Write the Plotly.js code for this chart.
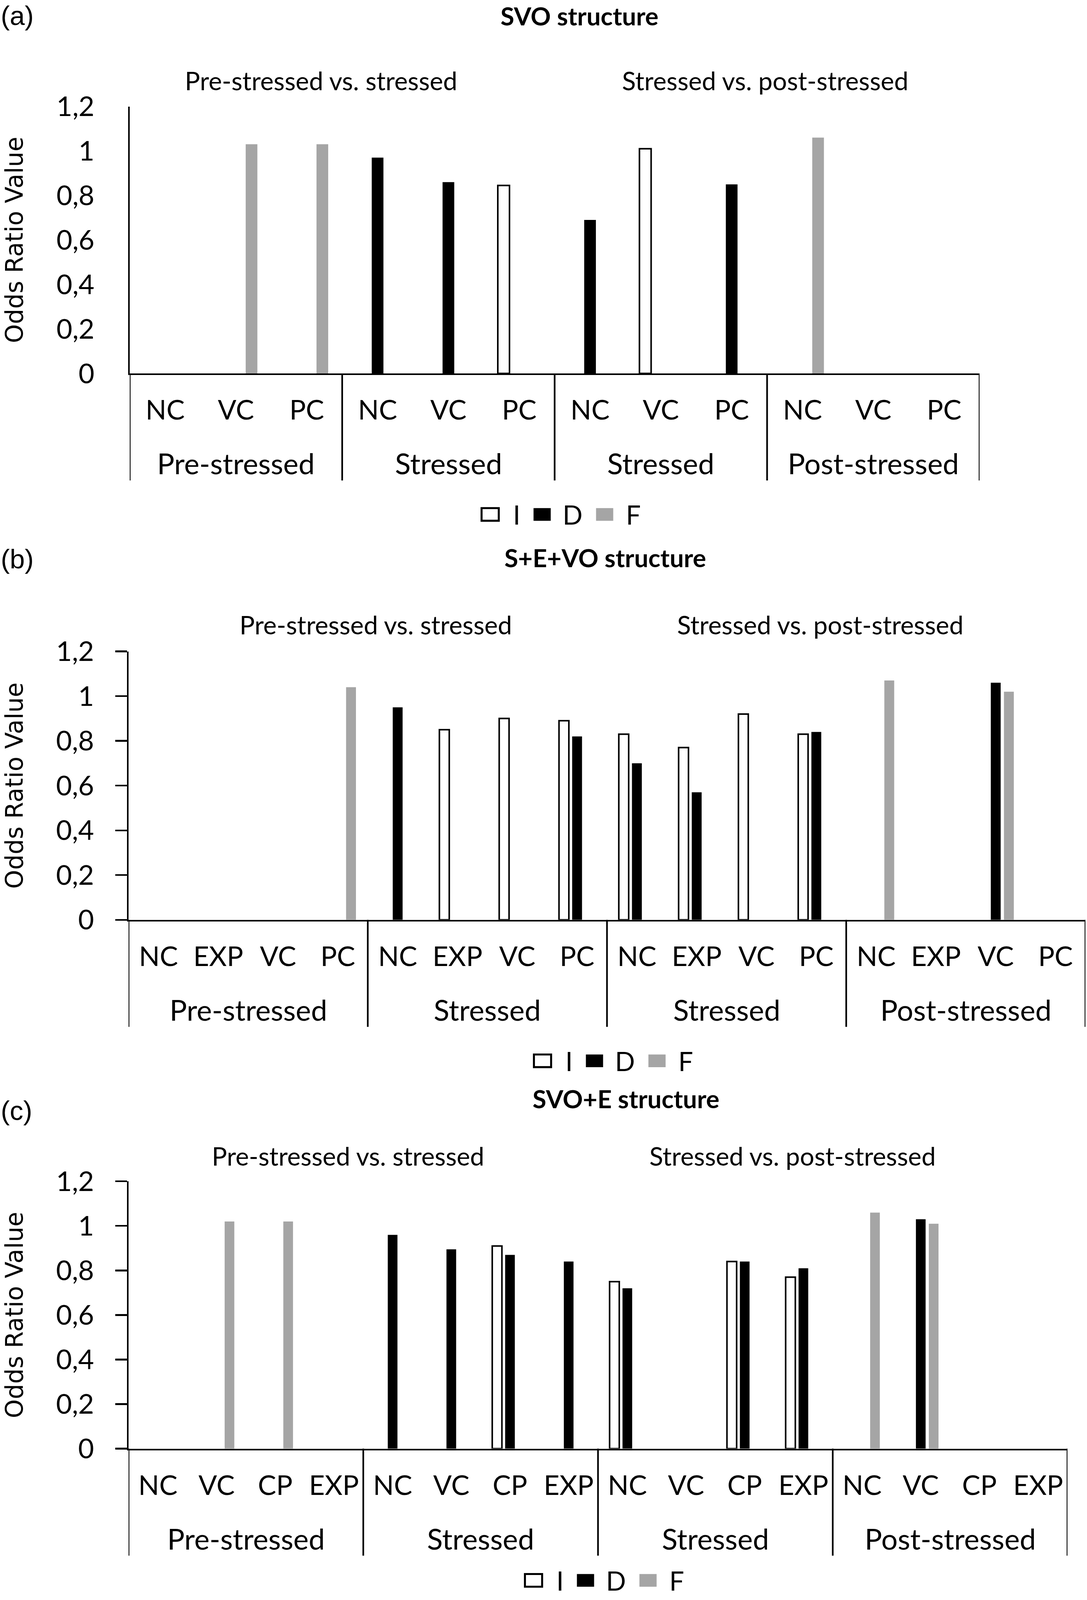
<!DOCTYPE html>
<html>
<head>
<meta charset="utf-8">
<script src="https://cdn.plot.ly/plotly-3.0.1.min.js"></script>
<style>html,body{margin:0;padding:0;background:#fff;overflow:hidden}</style>
</head>
<body>
<div id="chart"></div>
<script>
// ---------------- DATA ----------------
const seriesNames = ['I', 'D', 'F'];
const groupLabels = ['Pre-stressed', 'Stressed', 'Stressed', 'Post-stressed'];
const panelLetters = ['(a)', '(b)', '(c)'];
const panelTitles = ['SVO structure', 'S+E+VO structure', 'SVO+E structure'];
const comparisonLabels = ['Pre-stressed vs. stressed', 'Stressed vs. post-stressed'];
const yAxisTitle = 'Odds Ratio Value';
const yTickVals = [0, 0.2, 0.4, 0.6, 0.8, 1, 1.2];
const yTickText = ['0', '0,2', '0,4', '0,6', '0,8', '1', '1,2'];

const subLabelsA = ['NC', 'VC', 'PC'];
const subLabelsB = ['NC', 'EXP', 'VC', 'PC'];
const subLabelsC = ['NC', 'VC', 'CP', 'EXP'];

// (a) SVO structure
const A_I = [null, null, null,  null, null, 0.845,  null, 1.01, null,  null, null, null];
const A_D = [null, null, null,  0.97, 0.86, null,   0.69, null, 0.85,  null, null, null];
const A_F = [null, 1.03, 1.03,  null, null, null,   null, null, null,  1.06, null, null];

// (b) S+E+VO structure
const B_I = [null, null, null, null,  null, 0.85, 0.90, 0.89,  0.83, 0.77, 0.92, 0.83,  null, null, null, null];
const B_D = [null, null, null, null,  0.95, null, null, 0.82,  0.70, 0.57, null, 0.84,  null, null, 1.06, null];
const B_F = [null, null, null, 1.04,  null, null, null, null,  null, null, null, null,  1.07, null, 1.02, null];

// (c) SVO+E structure
const C_I = [null, null, null, null,  null, null, 0.91, null,  0.75, null, 0.84, 0.77,  null, null, null, null];
const C_D = [null, null, null, null,  0.96, 0.895, 0.87, 0.84, 0.72, null, 0.84, 0.81,  null, 1.03, null, null];
const C_F = [null, 1.02, 1.02, null,  null, null, null, null,  null, null, null, null,  1.06, 1.01, null, null];

// ---------------- STYLE / GEOMETRY ----------------
// Geometry is written in reference pixels (2782 x 5561) and mapped onto
// whatever window the page actually gets, so nothing falls off an edge.
const REF_W = 2782, REF_H = 5561;
const W = window.innerWidth || REF_W;
const H = window.innerHeight || REF_H;
const sx = W / REF_W, sy = H / REF_H;
const fsc = Math.sqrt(sx * sy);           // font scale
const fs = v => Math.round(v * fsc);
const px = v => v / REF_W;                 // reference px -> paper x
const py = v => 1 - v / REF_H;             // reference px -> paper y
document.getElementById('chart').style.width = W + 'px';
document.getElementById('chart').style.height = H + 'px';

const TXT = 'Lato, "Open Sans", sans-serif';
const NARROW = '"Liberation Sans Narrow", "Arial Narrow", "Liberation Sans", sans-serif';
const seriesColors = ['#FFFFFF', '#000000', '#A5A5A5'];
const seriesLines = [4, 0, 0];

const panelData = [
  {sub: subLabelsA, vals: [A_I, A_D, A_F]},
  {sub: subLabelsB, vals: [B_I, B_D, B_F]},
  {sub: subLabelsC, vals: [C_I, C_D, C_F]}
];
const panelGeom = [
  {x0: 332, x1: 2507, top: 370,  bot: 1298, titleX: 1483, titleY: 32,   letterY: 52,   cmpY: 280,  cmpX: [822, 1958], ticks: false},
  {x0: 329, x1: 2778, top: 2264, bot: 3197, titleX: 1549, titleY: 1938, letterY: 1944, cmpY: 2171, cmpX: [962, 2099], ticks: true},
  {x0: 329, x1: 2732, top: 4106, bot: 5035, titleX: 1602, titleY: 3819, letterY: 3860, cmpY: 4018, cmpX: [891, 2028], ticks: true}
];

const xTickSize = fs(81);
const legendSize = fs(78);
const traces = [];
const layout = {
  width: W, height: H,
  margin: {l: 0, r: 0, t: 0, b: 0},
  paper_bgcolor: '#FFFFFF',
  plot_bgcolor: 'rgba(0,0,0,0)',
  barmode: 'group',
  bargap: 0.34,
  bargroupgap: 0.25,
  showlegend: false,
  font: {family: TXT, color: '#000000'},
  annotations: [],
  shapes: []
};

panelData.forEach((pd, k) => {
  const g = panelGeom[k];
  const sfx = k === 0 ? '' : String(k + 1);
  const xa = 'x' + sfx, ya = 'y' + sfx;
  const nsub = pd.sub.length;
  const ids = [];
  const tickText = [];
  groupLabels.forEach((gl, gi) => pd.sub.forEach(s => { ids.push(gi + '|' + s); tickText.push(s); }));

  seriesNames.forEach((name, si) => {
    traces.push({
      type: 'bar', name: name, x: ids, y: pd.vals[si],
      xaxis: xa, yaxis: ya,
      marker: {color: seriesColors[si], line: {color: '#000000', width: seriesLines[si] * sx}},
      hoverinfo: 'x+y+name'
    });
  });

  layout['xaxis' + sfx] = {
    domain: [px(g.x0), px(g.x1)], anchor: ya,
    type: 'category', categoryorder: 'array', categoryarray: ids,
    range: [-0.5, ids.length - 0.5],
    tickmode: 'array', tickvals: ids, ticktext: tickText,
    showline: true, linecolor: '#000000', linewidth: 5 * fsc,
    ticks: '', showgrid: false, zeroline: false,
    tickfont: {family: TXT, size: xTickSize, color: '#000000'},
    ticklabelstandoff: Math.max(0, Math.round(125 * sy - 0.89 * xTickSize)), fixedrange: true
  };
  layout['yaxis' + sfx] = {
    domain: [py(g.bot), py(g.top)], anchor: xa,
    range: [0, 1.2], tickmode: 'array', tickvals: yTickVals, ticktext: yTickText,
    showline: true, linecolor: '#000000', linewidth: 5 * fsc,
    ticks: g.ticks ? 'outside' : '', ticklen: 30 * sx, tickwidth: 5 * fsc, tickcolor: '#000000',
    showgrid: false, zeroline: false,
    tickfont: {family: TXT, size: fs(82), color: '#000000'},
    ticklabelstandoff: Math.round((g.ticks ? 40 : 72) * sx),
    title: {text: yAxisTitle, font: {family: '"DejaVu Sans", sans-serif', size: fs(72), color: '#000000'}, standoff: Math.round(80 * sx)},
    fixedrange: true
  };

  // group separators
  for (let gi = 0; gi <= groupLabels.length; gi++) {
    layout.shapes.push({type: 'line', xref: xa, yref: 'paper',
      x0: gi * nsub - 0.5, x1: gi * nsub - 0.5, y0: py(g.bot), y1: py(g.bot + 372),
      line: {color: '#000000', width: 5 * fsc}});
  }
  // group labels
  groupLabels.forEach((gl, gi) => {
    layout.annotations.push({xref: xa, yref: 'paper', x: gi * nsub + (nsub - 1) / 2, y: py(g.bot + 312),
      text: gl, showarrow: false, xanchor: 'center', yanchor: 'middle',
      font: {family: TXT, size: fs(86), color: '#000000'}});
  });
  // panel letter and title (kept inside the top edge)
  const topLimit = k === 0;
  layout.annotations.push({xref: 'paper', yref: 'paper', x: 0,
    y: topLimit ? 1 : py(g.letterY), text: panelLetters[k],
    showarrow: false, xanchor: 'left', yanchor: topLimit ? 'top' : 'middle',
    font: {family: NARROW, size: fs(80), color: '#000000'}});
  layout.annotations.push({xref: 'paper', yref: 'paper', x: px(g.titleX),
    y: topLimit ? 1 : py(g.titleY), text: '<b>' + panelTitles[k] + '</b>',
    showarrow: false, xanchor: 'center', yanchor: topLimit ? 'top' : 'middle',
    font: {family: TXT, size: fs(74), color: '#000000'}});
  // comparison headings
  comparisonLabels.forEach((cl, ci) => {
    layout.annotations.push({xref: 'paper', yref: 'paper', x: px(g.cmpX[ci]), y: py(g.cmpY), text: cl,
      showarrow: false, xanchor: 'center', yanchor: 'middle', font: {family: TXT, size: fs(76), color: '#000000'}});
  });
  // legend (boxes + labels) centred under the plot, kept inside the bottom edge
  const lc = (g.x0 + g.x1) / 2 + 10;
  const maxLy = (H - 0.75 * legendSize) / sy;
  const ly = Math.min(g.bot + 490, maxLy);
  const boxOff = [-197, -64, 96];
  const txtOff = [-119, 8, 170];
  seriesNames.forEach((name, si) => {
    layout.shapes.push({type: 'rect', xref: 'paper', yref: 'paper',
      x0: px(lc + boxOff[si]), x1: px(lc + boxOff[si] + 44), y0: py(ly + 22), y1: py(ly - 22),
      fillcolor: seriesColors[si], line: {color: si === 0 ? '#000000' : seriesColors[si], width: si === 0 ? 6 * fsc : 0}});
    layout.annotations.push({xref: 'paper', yref: 'paper', x: px(lc + txtOff[si]), y: py(ly), text: name,
      showarrow: false, xanchor: 'left', yanchor: 'middle', font: {family: TXT, size: legendSize, color: '#000000'}});
  });
});

Plotly.newPlot('chart', traces, layout, {staticPlot: true, displayModeBar: false});
</script>
</body>
</html>
